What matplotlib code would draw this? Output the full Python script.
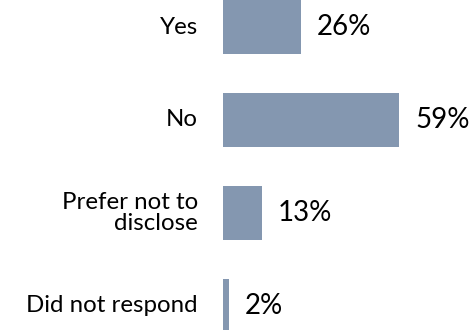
import matplotlib.pyplot as plt

categories = ["Yes", "No", "Prefer not to\ndisclose", "Did not respond"]
values = [26, 59, 13, 2]

BAR_COLOR = "#8497B0"

plt.rcParams["font.family"] = ["Lato", "DejaVu Sans"]

fig = plt.figure(figsize=(4.73, 3.30), dpi=100)
ax = fig.add_axes([0, 0, 1, 1])

pos = list(range(len(categories)))
ax.barh(pos, values, height=0.586, color=BAR_COLOR)

# pixel mapping: bar origin at x=223px, ~2.99 px per percent; rows 93px apart
px_per = 2.99
ax.set_xlim(-223 / px_per, (473 - 223) / px_per)
ax.set_ylim(3 + 24 / 93, -27 / 93)

for p, v, lab in zip(pos, values, categories):
    ax.text(v + 16 / px_per, p, f"{v}%", va="center", ha="left",
            fontsize=20, color="black")
    ax.text(-25 / px_per, p, lab, va="center", ha="right",
            fontsize=17.3, color="black", linespacing=0.95)

ax.axis("off")
fig.savefig("out.png", dpi=100)
